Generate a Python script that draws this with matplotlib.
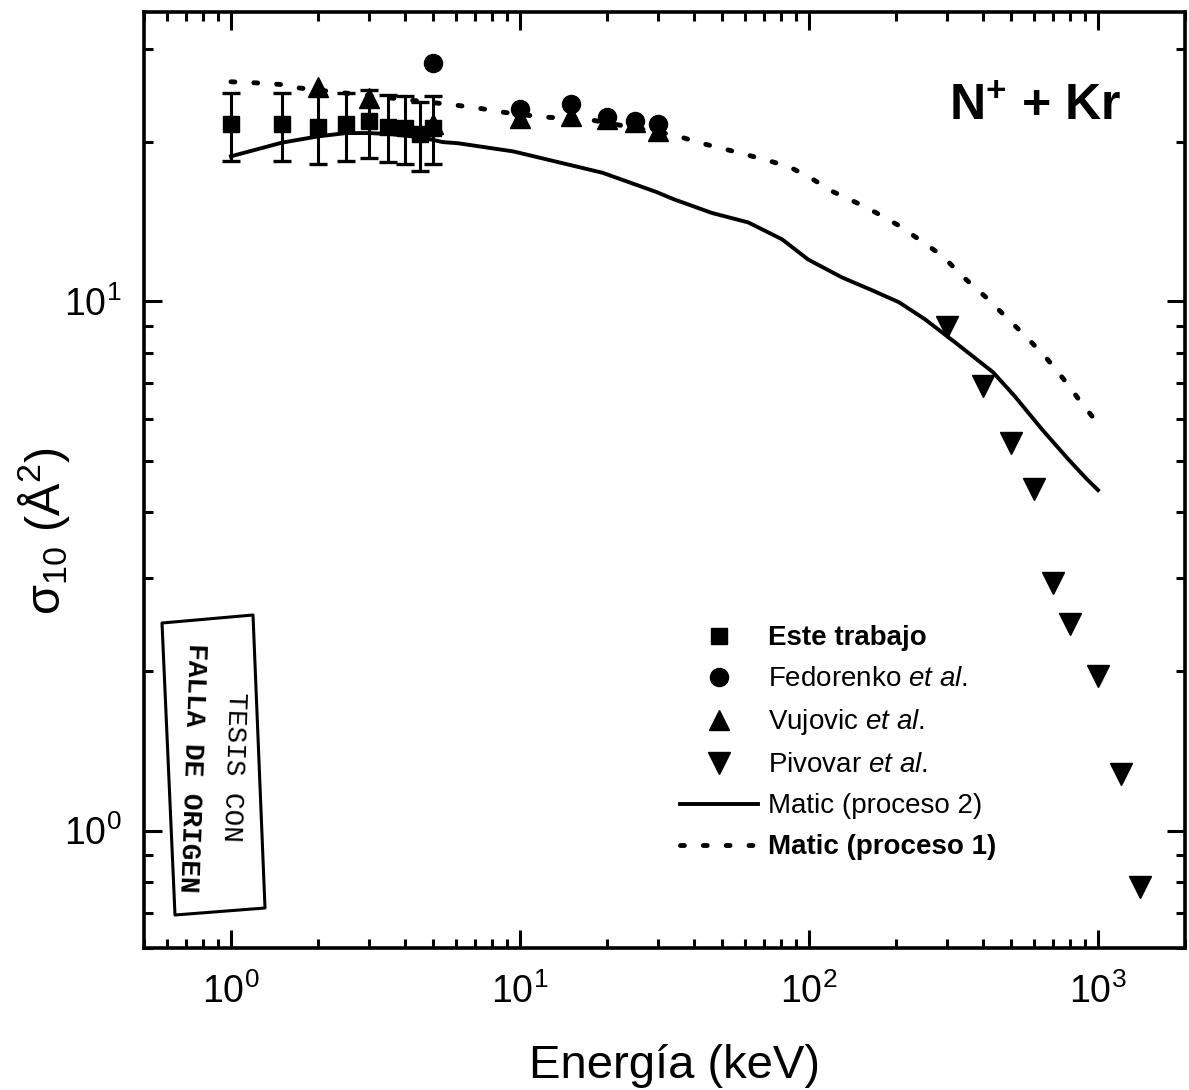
import matplotlib
matplotlib.use('Agg')
import matplotlib.pyplot as plt
from matplotlib.patches import Polygon
from matplotlib.transforms import Affine2D
from matplotlib.ticker import LogLocator, NullFormatter, FixedLocator

# ---------------- data ----------------
este_E = [1.0, 1.5, 2.0, 2.5, 3.0, 3.5, 4.0, 4.5, 5.0]
este_sigma = [21.6, 21.6, 21.4, 21.6, 21.9, 21.4, 21.3, 20.7, 21.3]
este_err = [3.2, 3.2, 3.2, 3.2, 3.2, 3.1, 3.1, 3.1, 3.1]

fed_E = [5, 10, 15, 20, 25, 30]
fed_sigma = [28.2, 23.1, 23.6, 22.3, 21.9, 21.6]

vuj_E = [2, 3, 5, 10, 15, 20, 25, 30]
vuj_sigma = [25.4, 24.2, 21.6, 22.2, 22.4, 22.1, 21.8, 21.0]

piv_E = [300, 400, 500, 600, 700, 800, 1000, 1200, 1400]
piv_sigma = [8.93, 6.91, 5.40, 4.42, 2.94, 2.46, 1.96, 1.28, 0.784]

matic2_E = [1.0, 1.5, 2.0, 2.5, 3.0, 3.6, 4.6, 5.4, 6.1, 9.5, 19.3, 29.6, 34.0,
            46, 61.6, 80.7, 99.3, 130, 165, 205, 252, 320, 433, 515, 640, 787, 913, 1000]
matic2_sigma = [18.8, 19.95, 20.5, 20.8, 20.8, 20.7, 20.4, 20.0, 19.9, 19.2, 17.5,
                16.1, 15.6, 14.7, 14.1, 13.1, 12.0, 11.1, 10.5, 9.96, 9.25, 8.37, 7.35,
                6.62, 5.73, 5.04, 4.62, 4.40]

matic1_E = [1.0, 1.19, 1.48, 1.73, 5.95, 7.14, 8.6, 12.0, 17.0, 34.5, 41.6, 49.3,
            59.3, 70.9, 84.8, 101.5, 121.5, 144.7, 171, 205, 240, 289, 343, 408,
            482, 562, 656, 762, 858, 1000]
matic1_sigma = [26.0, 25.9, 25.7, 25.3, 23.5, 23.2, 22.8, 22.3, 22.1, 20.6, 19.95,
                19.5, 19.0, 18.5, 18.0, 17.1, 16.1, 15.4, 14.7, 13.9, 13.1, 12.2,
                11.1, 10.2, 9.33, 8.59, 7.87, 7.12, 6.53, 5.87]

labels = ['Este trabajo', 'Fedorenko $\\mathit{et\\ al}$.', 'Vujovic $\\mathit{et\\ al}$.',
          'Pivovar $\\mathit{et\\ al}$.', 'Matic (proceso 2)', 'Matic (proceso 1)']
xtick_vals = [1, 10, 100, 1000]
xtick_labels = ['10$^{0}$', '10$^{1}$', '10$^{2}$', '10$^{3}$']
ytick_vals = [1, 10]
ytick_labels = ['10$^{0}$', '10$^{1}$']

# ---------------- style ----------------
SANS = ['Liberation Sans Narrow', 'Liberation Sans', 'DejaVu Sans']
plt.rcParams['font.family'] = SANS
plt.rcParams['mathtext.fontset'] = 'custom'
plt.rcParams['mathtext.rm'] = 'Liberation Sans'
plt.rcParams['mathtext.it'] = 'Liberation Sans:italic'
plt.rcParams['mathtext.bf'] = 'Liberation Sans:bold'

W, H = 1189, 1090
fig = plt.figure(figsize=(W / 100, H / 100), dpi=100)
ax = fig.add_axes([144 / W, 1 - 948 / H, (1185 - 144) / W, (948 - 11.5) / H])
ax.set_xscale('log')
ax.set_yscale('log')
ax.set_xlim(0.5, 2000)
ax.set_ylim(0.6, 35.3)

# theory lines
l2, = ax.plot(matic2_E, matic2_sigma, color='k', lw=2.8, zorder=2, label=labels[4])
l1, = ax.plot(matic1_E, matic1_sigma, color='k', lw=3.5, dashes=(0.8, 3.9),
              dash_capstyle='round', zorder=2, label=labels[5])

# data
ax.errorbar(este_E, este_sigma, yerr=este_err, fmt='none', ecolor='k',
            elinewidth=2.2, capsize=6.5, capthick=2.4, zorder=3)
h_este, = ax.plot(este_E, este_sigma, 's', color='k', ms=12, zorder=4, label=labels[0])
h_fed, = ax.plot(fed_E, fed_sigma, 'o', color='k', ms=13, zorder=4, label=labels[1])
h_vuj, = ax.plot(vuj_E, vuj_sigma, '^', color='k', ms=15, zorder=4, label=labels[2])
h_piv, = ax.plot(piv_E, piv_sigma, 'v', color='k', ms=15.5, zorder=4, label=labels[3])

# ticks
ax.xaxis.set_major_locator(FixedLocator(xtick_vals))
ax.set_xticklabels(xtick_labels)
ax.yaxis.set_major_locator(FixedLocator(ytick_vals))
ax.set_yticklabels(ytick_labels)
ax.xaxis.set_minor_locator(LogLocator(base=10, subs=range(2, 10), numticks=20))
ax.yaxis.set_minor_locator(LogLocator(base=10, subs=range(2, 10), numticks=20))
ax.xaxis.set_minor_formatter(NullFormatter())
ax.yaxis.set_minor_formatter(NullFormatter())
ax.tick_params(which='both', direction='in', top=True, right=True, width=2.2, color='k')
ax.tick_params(which='major', length=13)
ax.tick_params(which='minor', length=6.5)
ax.tick_params(axis='x', which='major', labelsize=27, pad=18)
ax.tick_params(axis='y', which='major', labelsize=27, pad=16)
for s in ax.spines.values():
    s.set_linewidth(2.6)

ax.set_xlabel('Energía (keV)', fontsize=34)
ax.xaxis.set_label_coords(0.510, -0.102)
ax.set_ylabel('σ$_{10}$ (Å$^{2}$)', fontsize=35)
ax.yaxis.set_label_coords(-0.069, 0.445)

ax.text(0.856, 0.898, '$\\mathbf{N^{+}}$ + Kr', transform=ax.transAxes,
        fontsize=36, fontweight='bold', ha='center', va='center')

# legend
handles = [h_este, h_fed, h_vuj, h_piv, l2, l1]
leg = ax.legend(handles, labels, loc='upper left', bbox_to_anchor=(0.5149, 0.3445),
                frameon=False, fontsize=20, handlelength=2.8, handletextpad=0.36,
                labelspacing=0.54, borderpad=0, borderaxespad=0, numpoints=1)
leg.get_texts()[0].set_fontweight('bold')
leg.get_texts()[5].set_fontweight('bold')

# "TESIS CON / FALLA DE ORIGEN" stamp (decoration, pixel coordinates)
pix = Affine2D().scale(1 / W, 1 / H) + fig.transFigure
MONO = ['Liberation Mono', 'DejaVu Sans Mono']
fig.text(233, H - 767, 'TESIS CON', transform=pix, rotation=-92, family=MONO,
         fontsize=20, ha='center', va='center')
fig.text(192, H - 768, 'FALLA DE ORIGEN', transform=pix, rotation=-92, family=MONO,
         fontsize=20, fontweight='bold', ha='center', va='center')
box = [(162, 623), (253, 615), (265, 908), (175, 915)]
fig.add_artist(Polygon([(x, H - y) for x, y in box], closed=True, fill=False,
                       edgecolor='k', lw=2.2, transform=pix, joinstyle='round'))

fig.savefig('out.png', dpi=100)
